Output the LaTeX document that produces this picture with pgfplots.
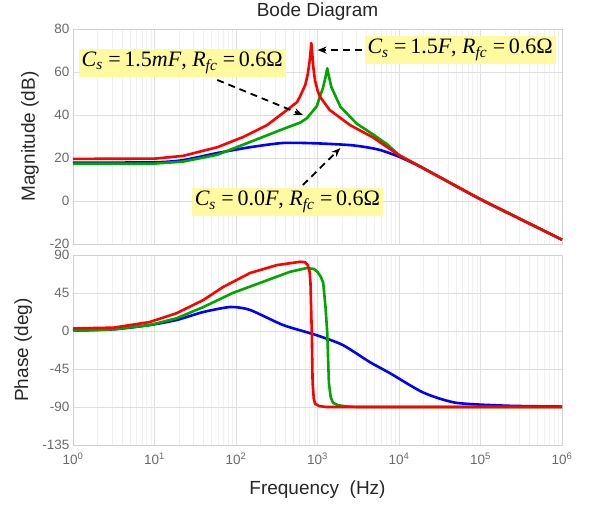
\documentclass[border=0pt]{standalone}
\usepackage{fontspec}
\setmainfont{Liberation Sans}
\newfontfamily\tnr{Liberation Serif}
\usepackage{pgfplots}
\pgfplotsset{compat=1.18}
\usetikzlibrary{arrows.meta}
\definecolor{mred}{RGB}{255,0,0}
\definecolor{mgreen}{RGB}{0,165,0}
\definecolor{mblue}{RGB}{0,0,255}
\definecolor{boxyel}{RGB}{255,250,160}
\definecolor{ticklab}{RGB}{105,105,105}
\definecolor{labcol}{RGB}{38,38,38}

\newcommand{\ann}[2]{\tnr\itshape C\textsubscript{s}\upshape\ =\,#1\itshape #2\upshape , \itshape R\textsubscript{fc}\upshape\ =\,0.6Ω}

\begin{document}
\begin{tikzpicture}
\path[use as bounding box] (-73pt,-61pt) rectangle (517pt,445pt);
\node[font=\fontsize{19}{22}\selectfont, color=labcol] at (244.5pt,433pt) {Bode Diagram};
% magnitude
\begin{axis}[at={(0pt,201pt)}, height=215pt,
  scale only axis, width=489pt, xmode=log, xmin=1, xmax=1e6,
  grid=both, major grid style={gray!25, line width=0.5pt},
  minor grid style={gray!12, line width=0.4pt},
  axis line style={gray!35}, major tick length=0pt, minor tick length=0pt,
  tick label style={font=\fontsize{13.5}{15}\selectfont, color=ticklab},
  label style={font=\fontsize{19}{22}\selectfont, color=labcol},
  /pgf/number format/assume math mode=true,
  xtick={1,10,100,1000,10000,100000,1000000},
  every axis plot/.append style={line width=2.6pt, line join=round},
  ymin=-20, ymax=80, ytick={-20,0,...,80}, xticklabels={},
  ylabel={Magnitude (dB)},
  ylabel style={at={(axis description cs:-0.088,0.5)}, anchor=center},
  clip=false]
\addplot[mblue, smooth, tension=0.4] coordinates {(1,17.8) (10,18) (22.4,19) (58.9,22.3) (148,25) (380,27) (1000,26.8) (2512,26) (4000,25) (5888,23.7) (10000,20.6) (20000,15.2) (100000,0.8) (1000000,-18)};
\addplot[mgreen] coordinates {(1,17.3) (10,17.4) (22.4,18.3) (58.9,21.5) (148,27.4) (380,33.5) (617,36.5) (741,38.5) (977,44) (1175,53) (1260,58) (1318,61.7) (1380,58) (1479,53) (1905,43.9) (3020,36) (4786,31) (7080,26.5) (10000,21.4) (100000,0.8) (1000000,-18)};
\addplot[mred] coordinates {(1,19.6) (10,19.7) (22.4,21) (58.9,25) (123,29.8) (240,35.3) (380,41) (562,46) (617,49) (708,54) (760,59) (800,65) (825,70) (840,73.5) (860,69) (890,62) (933,56) (1000,51.5) (1072,48.5) (1413,42.3) (2512,35.3) (4786,29.6) (10000,21.3) (100000,0.8) (1000000,-18)};
\node[fill=boxyel, inner sep=3pt, font=\fontsize{22}{24}\selectfont] at (axis cs:21.9,64.2) {\ann{1.5}{mF}};
\node[fill=boxyel, inner sep=3pt, font=\fontsize{22}{24}\selectfont] at (axis cs:56234,70.2) {\ann{1.5}{F}};
\node[fill=boxyel, inner sep=3pt, font=\fontsize{22}{24}\selectfont] at (axis cs:427,-0.5) {\ann{0.0}{F}};
\draw[black, line width=1.8pt, dash pattern=on 7pt off 5pt, -{Stealth[length=9pt,width=7pt]}] (axis cs:58.9,56.3) -- (axis cs:661,40);
\draw[black, line width=1.8pt, dash pattern=on 7pt off 5pt, -{Stealth[length=9pt,width=7pt]}] (axis cs:3548,70.2) -- (axis cs:1000,70.2);
\draw[black, line width=1.8pt, dash pattern=on 7pt off 5pt, -{Stealth[length=9pt,width=7pt]}] (axis cs:661,7.4) -- (axis cs:1905,24.6);
\end{axis}
% phase
\begin{axis}[at={(0pt,0pt)}, height=190pt,
  scale only axis, width=489pt, xmode=log, xmin=1, xmax=1e6,
  grid=both, major grid style={gray!25, line width=0.5pt},
  minor grid style={gray!12, line width=0.4pt},
  axis line style={gray!35}, major tick length=0pt, minor tick length=0pt,
  tick label style={font=\fontsize{13.5}{15}\selectfont, color=ticklab},
  xticklabel style={yshift=-4pt},
  label style={font=\fontsize{19}{22}\selectfont, color=labcol},
  /pgf/number format/assume math mode=true,
  xtick={1,10,100,1000,10000,100000,1000000},
  every axis plot/.append style={line width=2.6pt, line join=round},
  ymin=-135, ymax=90, ytick={-135,-90,...,90},
  xticklabels={10\textsuperscript{0},10\textsuperscript{1},10\textsuperscript{2},10\textsuperscript{3},10\textsuperscript{4},10\textsuperscript{5},10\textsuperscript{6}},
  ylabel={Phase (deg)},
  ylabel style={at={(axis description cs:-0.102,0.5)}, anchor=center},
  xlabel={Frequency\ \ (Hz)},
  xlabel style={at={(axis description cs:0.5,-0.237)}, anchor=center}]
\addplot[mblue, smooth, tension=0.4] coordinates {(1,0.5) (3.16,2) (8.71,7) (18.6,13) (39.8,22.5) (85.1,28.4) (148,25) (380,7) (977,-5) (2042,-16.6) (4365,-36.7) (7762,-50) (19953,-73) (50119,-85) (213796,-88.5) (1000000,-89.5)};
\addplot[mgreen] coordinates {(1,0.5) (3.16,2) (8.71,7) (18.6,15) (39.8,28.4) (91.2,45) (240,60) (457,70) (741,74.6) (900,73.5) (1000,70) (1100,64) (1175,57) (1250,30) (1318,-2) (1380,-61.6) (1450,-78) (1549,-85) (1800,-88) (2400,-89.5) (3000,-90) (1000000,-90)};
\addplot[mred] coordinates {(1,3) (3.16,4) (8.71,10.6) (18.6,21) (39.8,36.7) (69.2,52) (148,68.6) (316,78) (617,82) (700,81.5) (760,78) (800,70) (820,57) (851,-2) (871,-61.6) (900,-80) (933,-86) (1050,-89) (1300,-90) (1000000,-90)};
\end{axis}
\end{tikzpicture}
\end{document}
